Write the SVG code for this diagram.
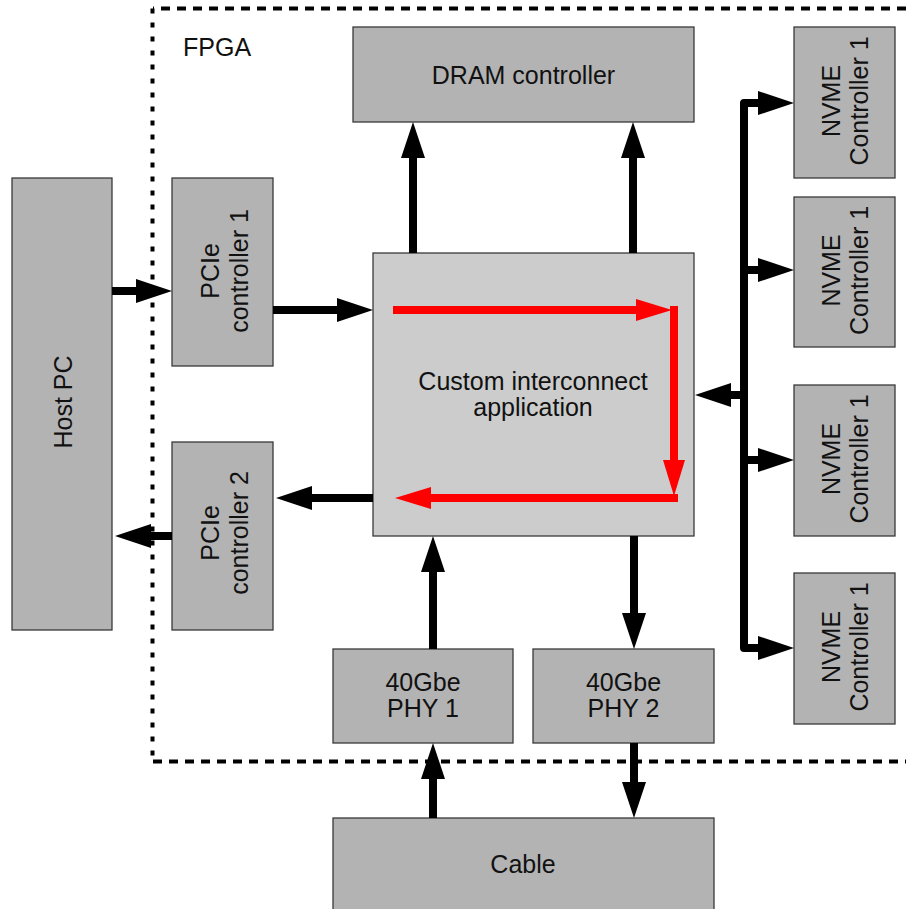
<svg xmlns="http://www.w3.org/2000/svg" width="906" height="909" viewBox="0 0 906 909">
<style>
.box{fill:#b3b3b3;stroke:#3a3a3a;stroke-width:1.3}
.app{fill:#cccccc;stroke:#3a3a3a;stroke-width:1.3}
.t{font-family:"Liberation Sans",Arial,sans-serif;font-size:25px;fill:#111;text-anchor:middle}
.fl{font-family:"Liberation Sans",Arial,sans-serif;font-size:25px;fill:#111}
.c{fill:none;stroke:#000;stroke-width:8;marker-end:url(#ah)}
.r{fill:none;stroke:#ff0000;stroke-width:8;marker-end:url(#rh)}
.fp{fill:none;stroke:#000;stroke-width:4}
</style>
<defs>
<marker id="ah" viewBox="0 0 36 24" refX="1" refY="12" markerWidth="36" markerHeight="24" markerUnits="userSpaceOnUse" orient="auto">
<path d="M0,0 L36,12 L0,24 Z" fill="#000"/>
</marker>
<marker id="rh" viewBox="0 0 36 22" refX="1" refY="11" markerWidth="36" markerHeight="22" markerUnits="userSpaceOnUse" orient="auto">
<path d="M0,0 L36,11 L0,22 Z" fill="#ff0000"/>
</marker>
</defs>

<g id="fpga">
<path class="fp" d="M906,8.5 H153" stroke-dasharray="9 7"/>
<path class="fp" d="M152.5,8.5 V761" stroke-dasharray="5 9"/>
<path class="fp" d="M153,761.5 H906" stroke-dasharray="9 7"/>
<text class="fl" x="183" y="56">FPGA</text>
</g>

<g id="host-pc">
<rect class="box" x="12" y="178" width="100" height="452"/>
<text class="t" transform="translate(62,402) rotate(-90)" x="0" y="9.5">Host PC</text>
</g>

<g id="pcie1">
<rect class="box" x="172" y="178" width="101" height="188"/>
<text class="t" transform="translate(222.5,271) rotate(-90)"><tspan x="0" y="-3.5">PCIe</tspan><tspan x="0" y="25.5">controller 1</tspan></text>
</g>

<g id="pcie2">
<rect class="box" x="172" y="442" width="101" height="188"/>
<text class="t" transform="translate(222.5,533) rotate(-90)"><tspan x="0" y="-3.5">PCIe</tspan><tspan x="0" y="25.5">controller 2</tspan></text>
</g>

<g id="dram">
<rect class="box" x="353" y="27" width="341" height="95"/>
<text class="t" x="523.5" y="84">DRAM controller</text>
</g>

<g id="custom-app">
<rect class="app" x="373" y="253" width="321" height="283"/>
<text class="t"><tspan x="533" y="390">Custom interconnect</tspan><tspan x="533" y="416">application</tspan></text>
</g>

<g id="nvme1">
<rect class="box" x="794" y="27" width="101" height="151"/>
<text class="t" transform="translate(844.5,101) rotate(-90)"><tspan x="0" y="-4.5">NVME</tspan><tspan x="0" y="23.5">Controller 1</tspan></text>
</g>
<g id="nvme2">
<rect class="box" x="794" y="197" width="101" height="150"/>
<text class="t" transform="translate(844.5,270.5) rotate(-90)"><tspan x="0" y="-4.5">NVME</tspan><tspan x="0" y="23.5">Controller 1</tspan></text>
</g>
<g id="nvme3">
<rect class="box" x="794" y="385" width="101" height="151"/>
<text class="t" transform="translate(844.5,459) rotate(-90)"><tspan x="0" y="-4.5">NVME</tspan><tspan x="0" y="23.5">Controller 1</tspan></text>
</g>
<g id="nvme4">
<rect class="box" x="794" y="573" width="101" height="151"/>
<text class="t" transform="translate(844.5,647) rotate(-90)"><tspan x="0" y="-4.5">NVME</tspan><tspan x="0" y="23.5">Controller 1</tspan></text>
</g>

<g id="phy1">
<rect class="box" x="333" y="649" width="180" height="94"/>
<text class="t"><tspan x="423" y="691">40Gbe</tspan><tspan x="423" y="717">PHY 1</tspan></text>
</g>
<g id="phy2">
<rect class="box" x="533" y="649" width="181" height="94"/>
<text class="t"><tspan x="623.5" y="691">40Gbe</tspan><tspan x="623.5" y="717">PHY 2</tspan></text>
</g>

<g id="cable">
<rect class="box" x="333" y="818" width="381" height="100"/>
<text class="t" x="523" y="873">Cable</text>
</g>

<g id="connectors">
<path class="c" d="M112,291 H137"/>
<path class="c" d="M273,310 H338"/>
<path class="c" d="M373,498 H311"/>
<path class="c" d="M172,536 H150"/>
<path class="c" d="M413,253 V157"/>
<path class="c" d="M633,253 V157"/>
<path class="c" d="M433,649 V571"/>
<path class="c" d="M634,536 V614"/>
<path class="c" d="M433,818 V778"/>
<path class="c" d="M634,743 V783"/>
<path d="M758,103 H744 V648 H758" fill="none" stroke="#000" stroke-width="8" stroke-linejoin="round"/>
<path class="c" d="M744,103 H759"/>
<path class="c" d="M744,270 H759"/>
<path class="c" d="M744,460 H759"/>
<path class="c" d="M744,648 H759"/>
<path class="c" d="M744,395 H730"/>
<path class="r" d="M393,310 H637"/>
<path class="r" d="M674,306 V461"/>
<path class="r" d="M678,498 H430"/>
</g>
</svg>
